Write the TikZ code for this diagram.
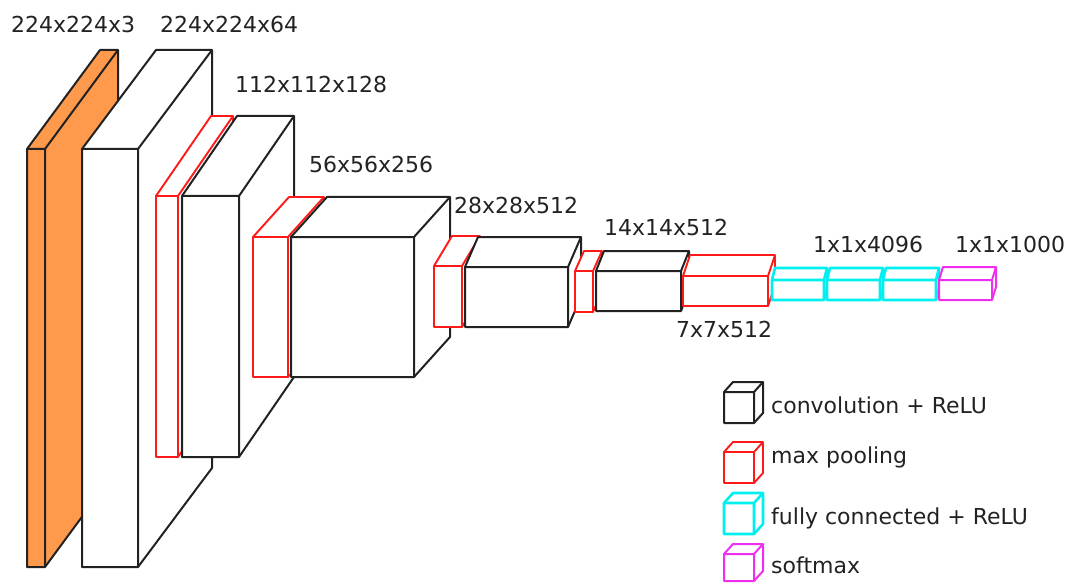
\documentclass[tikz,border=0pt]{standalone}
\usepackage{fontspec}
\setmainfont{DejaVu Sans}
\definecolor{inkc}{HTML}{222222}
\definecolor{orangec}{HTML}{FF9A4D}
\definecolor{redc}{HTML}{FF1A1A}
\definecolor{cyanc}{HTML}{00F0F0}
\definecolor{magc}{HTML}{F02EF0}
\tikzset{
  conv/.style={draw=inkc, fill=white, line width=2pt, line join=round},
  pool/.style={draw=redc, fill=white, line width=1.9pt, line join=round},
  fc/.style={draw=cyanc, fill=white, line width=2.6pt, line join=round},
  soft/.style={draw=magc, fill=white, line width=2pt, line join=round},
  inputl/.style={draw=inkc, fill=orangec, line width=2pt, line join=round},
  lbl/.style={anchor=base west, inner sep=0pt, text=inkc, font=\fontsize{22}{26}\selectfont}
}
% #1 x-left, #2 y-top, #3 x-right, #4 y-bottom, #5 dx, #6 dy, #7 style
\newcommand\layerbox[7]{%
  \filldraw[#7] (#1,#2) -- (#1+#5,#2-#6) -- (#3+#5,#2-#6) -- (#3+#5,#4-#6) -- (#3,#4) -- (#1,#4) -- cycle;
  \draw[#7, fill=none] (#1,#2) -- (#3,#2) -- (#3+#5,#2-#6) (#3,#2) -- (#3,#4);
}
\begin{document}
\begin{tikzpicture}[x=1pt,y=-1pt]
\useasboundingbox (0,0) rectangle (1069,583);
% network layers, back to front
\layerbox{27}{149}{45}{567}{73}{99}{inputl}
\layerbox{82}{149}{138}{567}{74}{99}{conv}
\layerbox{156}{196}{178}{457}{55}{80}{pool}
\layerbox{182}{196}{239}{457}{55}{80}{conv}
\layerbox{253}{237}{288}{377}{36}{40}{pool}
\layerbox{291}{237}{414}{377}{36}{40}{conv}
\layerbox{434}{266}{462}{327}{18}{30}{pool}
\layerbox{465}{267}{568}{327}{13}{30}{conv}
\layerbox{575}{271}{593}{312}{9}{20}{pool}
\layerbox{596}{271}{681}{311}{8}{20}{conv}
\layerbox{683}{276}{768}{306}{7}{21}{pool}
\layerbox{772}{280}{824}{300}{3}{12}{fc}
\layerbox{827}{280}{880}{300}{3}{12}{fc}
\layerbox{883}{280}{936}{300}{3}{12}{fc}
\layerbox{939}{280}{992}{300}{4}{13}{soft}
% size labels
\node[lbl] (l1) at (11,33) {224x224x3};
\node[lbl] (l2) at (160,33) {224x224x64};
\node[lbl] (l3) at (235,93) {112x112x128};
\node[lbl] (l4) at (309,173) {56x56x256};
\node[lbl] (l5) at (454,213) {28x28x512};
\node[lbl] (l6) at (604,236) {14x14x512};
\node[lbl] (l7) at (676,337) {7x7x512};
\node[lbl] (l8) at (813,252) {1x1x4096};
\node[lbl] (l9) at (955,252) {1x1x1000};
% legend
\layerbox{724}{392}{754}{423}{9}{10}{conv}
\layerbox{724}{452}{754}{483}{9}{10}{pool}
\layerbox{724}{503}{754}{534}{9}{10}{fc}
\layerbox{724}{554}{754}{581}{9}{10}{soft}
\node[lbl] (g1) at (771,413) {convolution + ReLU};
\node[lbl] (g2) at (771,463) {max pooling};
\node[lbl] (g3) at (771,524) {fully connected + ReLU};
\node[lbl] (g4) at (771,573) {softmax};
\end{tikzpicture}
\end{document}
